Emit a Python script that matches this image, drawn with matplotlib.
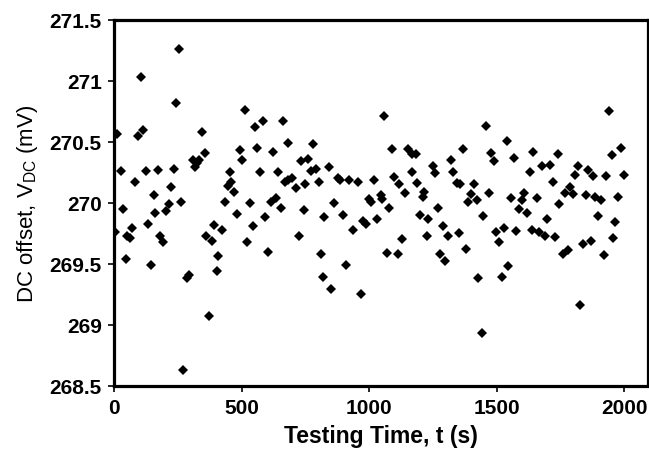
import matplotlib
matplotlib.use("Agg")
import matplotlib.pyplot as plt
from matplotlib.ticker import FuncFormatter

plt.rcParams['font.family'] = ['Liberation Sans', 'DejaVu Sans']

t_s = [
    4, 12, 25, 35, 46, 51, 62, 71, 81, 93, 104, 113, 123, 132, 144, 155, 160,
    173, 179, 190, 203, 213, 223, 234, 243, 254, 261, 271, 284, 294, 307, 316,
    323, 333, 343, 356, 360, 370, 382, 391, 402, 408,
    421, 434, 445, 453, 458, 471, 480, 492, 502, 511, 522, 534, 543, 553, 561,
    570, 582, 591, 602, 613, 621, 633, 642, 654, 660, 669, 680, 683, 696, 711,
    723, 732, 743, 748, 758, 771, 779, 790, 802, 811, 817, 824,
    842, 849, 863, 877, 887, 898, 910, 920, 936, 957, 968, 977, 986, 998, 1005,
    1020, 1029, 1045, 1050, 1058, 1068, 1078, 1090, 1098, 1111, 1118, 1129,
    1141, 1151, 1166, 1169, 1182, 1188, 1199, 1210, 1216, 1226, 1231,
    1251, 1259, 1268, 1277, 1288, 1298, 1307, 1319, 1328, 1343, 1351, 1357,
    1369, 1378, 1388, 1399, 1411, 1421, 1427, 1441, 1446, 1457, 1468, 1479,
    1488, 1496, 1509, 1519, 1528, 1540, 1545, 1557, 1566, 1575, 1588, 1598,
    1608, 1620, 1630, 1639, 1642,
    1656, 1666, 1676, 1688, 1697, 1709, 1719, 1727, 1740, 1745, 1759, 1766,
    1778, 1788, 1799, 1808, 1817, 1828, 1837, 1850, 1858, 1868, 1877, 1886,
    1898, 1907, 1920, 1930, 1941, 1951, 1956, 1965, 1976, 1987, 2000,
]
v_dc = [
    269.76, 270.56, 270.26, 269.95, 269.54, 269.73, 269.71, 269.79, 270.17,
    270.55, 271.03, 270.60, 270.26, 269.83, 269.49, 270.06, 269.92, 270.27,
    269.73, 269.68, 269.93, 269.99, 270.13, 270.28, 270.82, 271.26, 270.01,
    268.63, 269.38, 269.41, 270.35, 270.29, 270.33, 270.35, 270.58, 270.41,
    269.73, 269.07, 269.69, 269.82, 269.44, 269.56,
    269.78, 270.01, 270.14, 270.25, 270.17, 270.09, 269.91, 270.43, 270.35,
    270.76, 269.68, 270.00, 269.81, 270.62, 270.45, 270.25, 270.67, 269.88,
    269.60, 270.01, 270.42, 270.04, 270.25, 269.96, 270.67, 270.17, 270.49,
    270.19, 270.20, 270.12, 269.73, 270.34, 269.94, 270.15, 270.36, 270.26,
    270.48, 270.28, 270.17, 269.58, 269.39, 269.88,
    270.29, 269.29, 270.00, 270.20, 270.19, 269.90, 269.49, 270.19, 269.78,
    270.17, 269.25, 269.85, 269.83, 270.03, 270.01, 270.19, 269.87, 270.06,
    270.03, 270.71, 269.59, 269.96, 270.44, 270.21, 269.58, 270.15, 269.70,
    270.08, 270.44, 270.40, 270.25, 270.40, 270.16, 269.90, 270.05, 270.09,
    269.73, 269.87,
    270.30, 270.24, 269.96, 269.58, 269.81, 269.52, 269.73, 270.35, 270.25,
    270.16, 269.75, 270.15, 270.44, 269.62, 270.01, 270.07, 270.15, 270.02,
    269.38, 268.93, 269.89, 270.63, 270.08, 270.41, 270.34, 269.76, 269.68,
    269.39, 269.79, 270.51, 269.48, 270.04, 270.37, 269.77, 269.95, 270.02,
    270.08, 269.92, 270.25, 269.78, 270.42,
    270.04, 269.76, 270.30, 269.73, 269.87, 270.31, 270.17, 269.72, 270.40,
    269.99, 269.58, 270.08, 269.61, 270.13, 270.07, 270.23, 270.30, 269.16,
    269.66, 270.06, 270.27, 269.69, 270.22, 270.05, 269.89, 270.02, 269.57,
    270.22, 270.75, 270.39, 269.71, 269.84, 270.05, 270.45, 270.23,
]

x_ticks = [0, 500, 1000, 1500, 2000]
y_ticks = [268.5, 269, 269.5, 270, 270.5, 271, 271.5]


def main():
    fig = plt.figure(figsize=(6.49, 4.6), dpi=100)
    ax = fig.add_axes([0.176, 0.159, 0.822, 0.796])

    ax.plot(t_s, v_dc, linestyle='none', marker='D', markersize=4.8,
            color='black', markeredgewidth=0)

    ax.set_xlim(0, 2092)
    ax.set_ylim(268.5, 271.5)
    ax.set_xticks(x_ticks)
    ax.set_yticks(y_ticks)
    ax.yaxis.set_major_formatter(FuncFormatter(lambda v, _: f'{v:g}'))

    for side in ['left', 'bottom', 'top']:
        ax.spines[side].set_linewidth(2.3)
    ax.spines['right'].set_linewidth(1.6)

    ax.tick_params(direction='out', length=4, width=1.2, color='black',
                   labelsize=15, pad=5)
    for lbl in ax.get_xticklabels() + ax.get_yticklabels():
        lbl.set_fontweight('bold')

    ax.set_xlabel('Testing Time, t (s)', fontsize=16.5, fontweight='bold',
                  labelpad=5)
    ax.set_ylabel(r'DC offset, V$_{\mathregular{DC}}$ (mV)', fontsize=16,
                  labelpad=7)

    fig.savefig('out.png', dpi=100)
    plt.close(fig)


if __name__ == "__main__":
    main()
